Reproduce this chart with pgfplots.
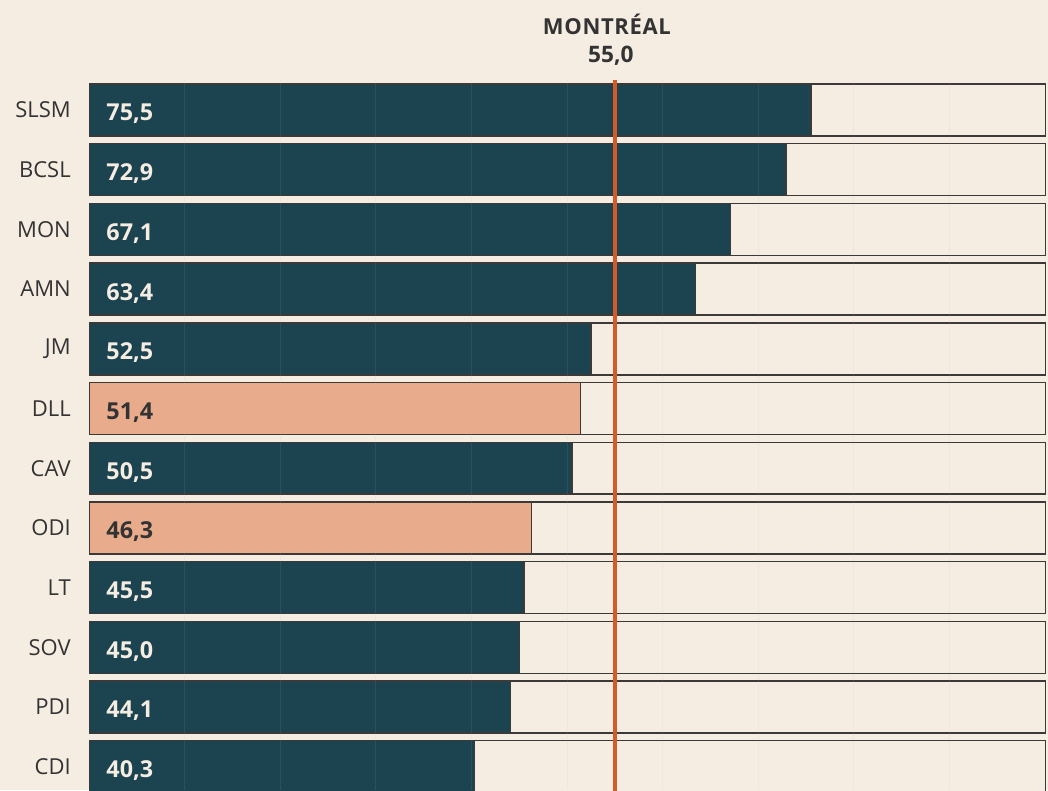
\documentclass[border=0pt]{standalone}
\usepackage{fontspec}
\setmainfont{Open Sans}
\newfontfamily\titlesp[LetterSpace=3]{Open Sans}
\usepackage{pgfplots}
\usepackage{pgfplotstable}
\pgfplotsset{compat=1.18}
\definecolor{bg}{RGB}{245,236,226}
\definecolor{dark}{RGB}{27,67,80}
\definecolor{salmon}{RGB}{232,172,140}
\definecolor{redline}{RGB}{214,90,40}
\definecolor{txt}{RGB}{51,51,51}
\definecolor{outl}{RGB}{60,58,56}
\definecolor{gridc}{RGB}{205,185,160}

\pgfplotstableread{
idx val
0 75.5
1 72.9
2 67.1
3 63.4
4 52.5
6 50.5
8 45.5
9 45.0
10 44.1
11 40.3
}\darkdata
\pgfplotstableread{
idx val
5 51.4
7 46.3
}\salmondata
\pgfplotstableread{
idx val
0 100
1 100
2 100
3 100
4 100
5 100
6 100
7 100
8 100
9 100
10 100
11 100
}\fulldata

\begin{document}
\begin{tikzpicture}
\fill[bg] (0pt,0pt) rectangle (786pt,592.5pt);
\useasboundingbox (0pt,0pt) rectangle (786pt,592.5pt);
\begin{axis}[
  at={(66.75pt,0pt)}, anchor=south west,
  scale only axis,
  width=720.75pt, height=532.5pt,
  xmin=0, xmax=100.5,
  ymin=-0.5025, ymax=11.39,
  y dir=reverse,
  bar width=0.87,
  axis line style={draw=none},
  major tick length=0pt,
  xtick={10,20,...,90}, xticklabels={},
  xmajorgrids=true,
  grid style={draw=gridc, opacity=0.1, line width=0.75pt},
  axis on top=true,
  ytick={0,...,11},
  yticklabels={SLSM,BCSL,MON,AMN,JM,DLL,CAV,ODI,LT,SOV,PDI,CDI},
  yticklabel style={font=\fontsize{16.5}{18}\selectfont, text=txt, inner sep=0pt, xshift=-13.5pt},
  /pgf/number format/assume math mode=true,
  clip mode=individual,
]
\addplot[xbar, bar shift=0pt, fill=bg, draw=outl, line width=1.1pt] table[x=val, y=idx] {\fulldata};
\addplot[xbar, bar shift=0pt, fill=dark, draw=outl, line width=1.1pt] table[x=val, y=idx] {\darkdata};
\addplot[xbar, bar shift=0pt, fill=salmon, draw=outl, line width=1.1pt] table[x=val, y=idx] {\salmondata};
% value labels
\addplot[draw=none, fill=none, forget plot,
  nodes near coords={\pgfmathprintnumber[fixed, fixed zerofill, precision=1, use comma]{\pgfplotspointmeta}},
  point meta=explicit,
  every node near coord/.append style={anchor=west, font=\bfseries\fontsize{17.5}{18}\selectfont, text=bg, inner sep=0pt, yshift=-3pt, xshift=0pt}]
  table[x expr=1.8, y=idx, meta=val] {\darkdata};
\addplot[draw=none, fill=none, forget plot,
  nodes near coords={\pgfmathprintnumber[fixed, fixed zerofill, precision=1, use comma]{\pgfplotspointmeta}},
  point meta=explicit,
  every node near coord/.append style={anchor=west, font=\bfseries\fontsize{17.5}{18}\selectfont, text=txt, inner sep=0pt, yshift=-3pt, xshift=0pt}]
  table[x expr=1.8, y=idx, meta=val] {\salmondata};
\addplot[redline, line width=3pt, forget plot, mark=none] coordinates {(55,-1) (55,12)};
\node[font=\titlesp\bfseries\fontsize{16.5}{18}\selectfont, text=txt, anchor=center, yshift=42pt, xshift=-6pt] at (axis cs:55,-0.5025) {MONTRÉAL};
\node[font=\bfseries\fontsize{17}{18}\selectfont, text=txt, anchor=center, yshift=18pt, xshift=-3pt] at (axis cs:55,-0.5025) {55,0};
\end{axis}
\end{tikzpicture}
\end{document}
